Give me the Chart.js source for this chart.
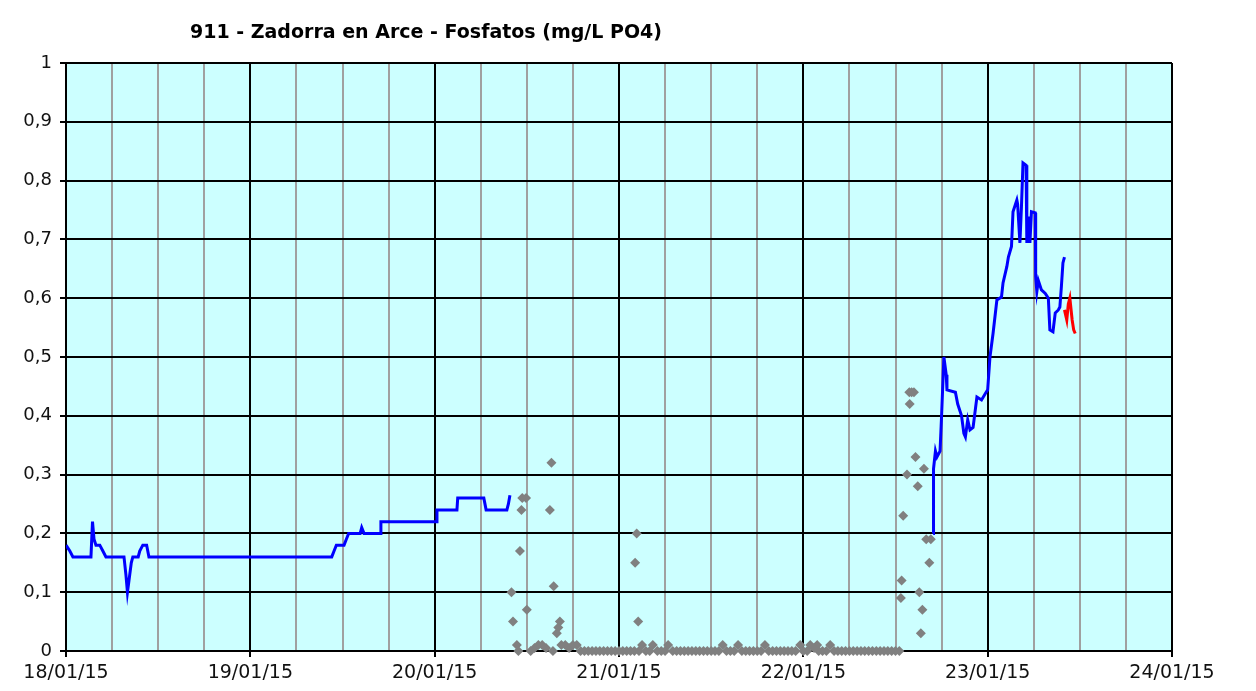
<!DOCTYPE html>
<html>
<head>
<meta charset="utf-8">
<script src="https://cdn.jsdelivr.net/npm/chart.js@4/dist/chart.umd.min.js"></script>
<style>
  body { margin: 0; background: #fff; }
</style>
</head>
<body>
<canvas id="chart" width="1256" height="691"></canvas>
<script>
// hours counted from 18/01/15 00:00
const dayLabels = ['18/01/15', '19/01/15', '20/01/15', '21/01/15', '22/01/15', '23/01/15', '24/01/15'];
const yTickLabels = ['0', '0,1', '0,2', '0,3', '0,4', '0,5', '0,6', '0,7', '0,8', '0,9', '1'];

// validated series (blue), gap between the two stretches
const blueHours = [0, 0.5, 0.9, 3.25, 3.45, 3.65, 3.9, 4.4, 4.8, 5.2, 7.55, 7.8, 8.0, 8.2, 8.5, 8.7, 9.4, 9.6, 10.0, 10.5, 10.8,
  34.6, 34.9, 35.2, 36.2, 36.5, 36.8, 38.3, 38.5, 38.8, 40.9, 41.0, 48.2, 48.3, 50.9, 51.0, 54.4, 54.7, 57.4, 57.6, 57.8,
  80,
  112.9, 112.95, 113.2, 113.4, 113.8, 114.0, 114.3, 114.6, 114.7, 115.8, 116.1, 116.6, 116.9, 117.1, 117.4, 117.7, 118.1, 118.6,
  119.2, 119.7, 120.0, 120.3, 120.7, 121.2, 121.8, 122.0, 122.5, 122.7, 123.1, 123.3, 123.8, 123.9, 124.2, 124.4, 124.6, 125.0,
  125.1, 125.3, 125.5, 125.7, 126.2, 126.25, 126.4, 126.6, 127.0, 127.5, 127.9, 128.1, 128.5, 128.8, 129.2, 129.4, 129.6, 129.8, 130.0];
const blueValues = [0.18, 0.17, 0.16, 0.16, 0.22, 0.19, 0.18, 0.18, 0.17, 0.16, 0.16, 0.13, 0.10, 0.12, 0.15, 0.16, 0.16, 0.17, 0.18, 0.18, 0.16,
  0.16, 0.17, 0.18, 0.18, 0.19, 0.20, 0.20, 0.21, 0.20, 0.20, 0.22, 0.22, 0.24, 0.24, 0.26, 0.26, 0.24, 0.24, 0.25, 0.265,
  null,
  0.20, 0.31, 0.34, 0.33, 0.34, 0.40, 0.50, 0.47, 0.444, 0.44, 0.42, 0.40, 0.37, 0.364, 0.393, 0.376, 0.38, 0.432,
  0.427, 0.438, 0.444, 0.50, 0.54, 0.597, 0.602, 0.626, 0.654, 0.67, 0.688, 0.747, 0.767, 0.76, 0.694, 0.756, 0.83, 0.826,
  0.694, 0.739, 0.694, 0.747, 0.745, 0.637, 0.611, 0.63, 0.614, 0.608, 0.60, 0.546, 0.543, 0.575, 0.58, 0.585, 0.62, 0.66, 0.67];

// latest provisional values (red)
const redHours = [130.0, 130.3, 130.5, 130.7, 131.0, 131.2, 131.4];
const redValues = [0.58, 0.563, 0.59, 0.60, 0.563, 0.546, 0.54];

// second probe (grey diamonds)
const grayHours = [58.0, 58.2, 58.7, 58.9, 59.1, 59.3, 59.4, 59.9, 60.0,
  60.5, 61.0, 61.5, 62.0, 62.5, 63.0, 63.2, 63.4, 63.5, 63.9, 64.1, 64.3, 64.5, 65.0, 65.5, 66.0, 66.5,
  67.0, 67.5, 68.0, 68.5, 69.0, 69.5, 70.0, 70.5, 71.0, 71.5, 72.0, 72.5, 73.0, 73.5, 74.0, 74.1, 74.3, 74.5, 74.6,
  75.0, 75.5, 76.0, 76.4, 77.0, 77.5, 78.0, 78.4, 79.0, 79.5, 80.0, 80.5, 81.0, 81.5, 82.0, 82.5, 83.0, 83.5, 84.0, 84.5,
  85.0, 85.5, 86.0, 86.5, 87.0, 87.5, 88.0, 88.5, 89.0, 89.5, 90.0, 90.5, 91.0, 91.5, 92.0, 92.5, 93.0, 93.5, 94.0, 94.5,
  95.0, 95.6, 96.0, 96.5, 96.9, 97.4, 97.8, 98.0, 98.5, 99.0, 99.5, 100.0, 100.5, 101.0, 101.5, 102.0, 102.5, 103.0, 103.5,
  104.0, 104.5, 105.0, 105.5, 106.0, 106.5, 107.0, 107.5, 108.0, 108.5,
  108.7, 108.8, 109.0, 109.5, 109.8, 109.85, 110.1, 110.4, 110.6, 110.9, 111.1, 111.3, 111.5, 111.7, 112.0, 112.4, 112.6];
const grayValues = [0.10, 0.05, 0.01, 0, 0.17, 0.24, 0.26, 0.26, 0.07,
  0, 0.005, 0.01, 0.01, 0.005, 0.24, 0.32, 0, 0.11, 0.03, 0.04, 0.05, 0.01, 0.01, 0.005, 0.01, 0.01,
  0, 0, 0, 0, 0, 0, 0, 0, 0, 0, 0, 0, 0, 0, 0, 0.15, 0.20, 0.05, 0,
  0.01, 0, 0, 0.01, 0, 0, 0, 0.01, 0, 0, 0, 0, 0, 0, 0, 0, 0, 0, 0, 0,
  0, 0.01, 0, 0, 0, 0.01, 0, 0, 0, 0, 0, 0, 0.01, 0, 0, 0, 0, 0, 0, 0,
  0, 0.01, 0, 0, 0.01, 0.005, 0.01, 0, 0, 0, 0.01, 0, 0, 0, 0, 0, 0, 0, 0,
  0, 0, 0, 0, 0, 0, 0, 0, 0, 0,
  0.09, 0.12, 0.23, 0.30, 0.44, 0.42, 0.44, 0.44, 0.33, 0.28, 0.10, 0.03, 0.07, 0.31, 0.19, 0.15, 0.19];

const toPoints = (xs, ys) => xs.map((x, i) => ({ x: x, y: ys[i] }));

// title sits left of centre in the original
const titlePlugin = {
  id: 'leftTitle',
  afterDraw(chart) {
    const ctx = chart.ctx;
    ctx.save();
    ctx.font = 'bold 19px "DejaVu Sans", sans-serif';
    ctx.fillStyle = '#000';
    ctx.textAlign = 'center';
    ctx.textBaseline = 'middle';
    ctx.fillText('911 - Zadorra en Arce - Fosfatos (mg/L PO4)', 426, 33);
    ctx.restore();
  }
};

// plot area background
const bgPlugin = {
  id: 'plotBg',
  beforeDraw(chart) {
    const a = chart.chartArea;
    chart.ctx.save();
    chart.ctx.fillStyle = '#ccffff';
    chart.ctx.fillRect(a.left, a.top, a.right - a.left, a.bottom - a.top);
    chart.ctx.restore();
  }
};

new Chart(document.getElementById('chart'), {
  type: 'line',
  data: {
    datasets: [
      {
        label: 'Sonda 2',
        data: toPoints(grayHours, grayValues),
        showLine: false,
        clip: false,
        pointStyle: 'rectRot',
        pointRadius: 5,
        pointBackgroundColor: '#808080',
        pointBorderColor: '#808080',
        pointBorderWidth: 0,
        order: 3
      },
      {
        label: 'Validado',
        data: toPoints(blueHours, blueValues),
        borderColor: '#0000ff',
        borderWidth: 3,
        pointRadius: 0,
        tension: 0,
        spanGaps: false,
        order: 2
      },
      {
        label: 'Provisional',
        data: toPoints(redHours, redValues),
        borderColor: '#ff0000',
        borderWidth: 3,
        pointRadius: 0,
        tension: 0,
        order: 1
      }
    ]
  },
  options: {
    responsive: false,
    animation: false,
    layout: { padding: { top: 63, right: 84, left: 0, bottom: 0 } },
    plugins: {
      legend: { display: false },
      tooltip: { enabled: false }
    },
    scales: {
      x: {
        type: 'linear',
        min: 0,
        max: 144,
        afterFit: s => { s.height = 40; },
        afterBuildTicks: s => {
          const t = [];
          for (let h = 0; h <= 144; h += 6) t.push({ value: h });
          s.ticks = t;
        },
        ticks: {
          autoSkip: false,
          maxRotation: 0,
          padding: 5,
          color: '#111',
          font: { family: '"DejaVu Sans", sans-serif', size: 19 },
          callback: v => (v % 24 === 0 ? dayLabels[v / 24] : '')
        },
        grid: {
          color: c => (c.tick && c.tick.value % 24 === 0 ? '#000' : '#a0a0a0'),
          tickColor: c => (c.tick && c.tick.value % 24 === 0 ? '#000' : 'rgba(0,0,0,0)'),
          lineWidth: 2,
          tickLength: 6
        },
        border: { color: '#000', width: 2 }
      },
      y: {
        min: 0,
        max: 1,
        afterFit: s => { s.width = 66; },
        ticks: {
          stepSize: 0.1,
          padding: 8,
          color: '#111',
          font: { family: '"DejaVu Sans", sans-serif', size: 18 },
          callback: (v, i) => yTickLabels[i]
        },
        grid: { color: '#000', lineWidth: 2, tickLength: 6 },
        border: { color: '#000', width: 2 }
      }
    }
  },
  plugins: [bgPlugin, titlePlugin]
});
</script>
</body>
</html>
